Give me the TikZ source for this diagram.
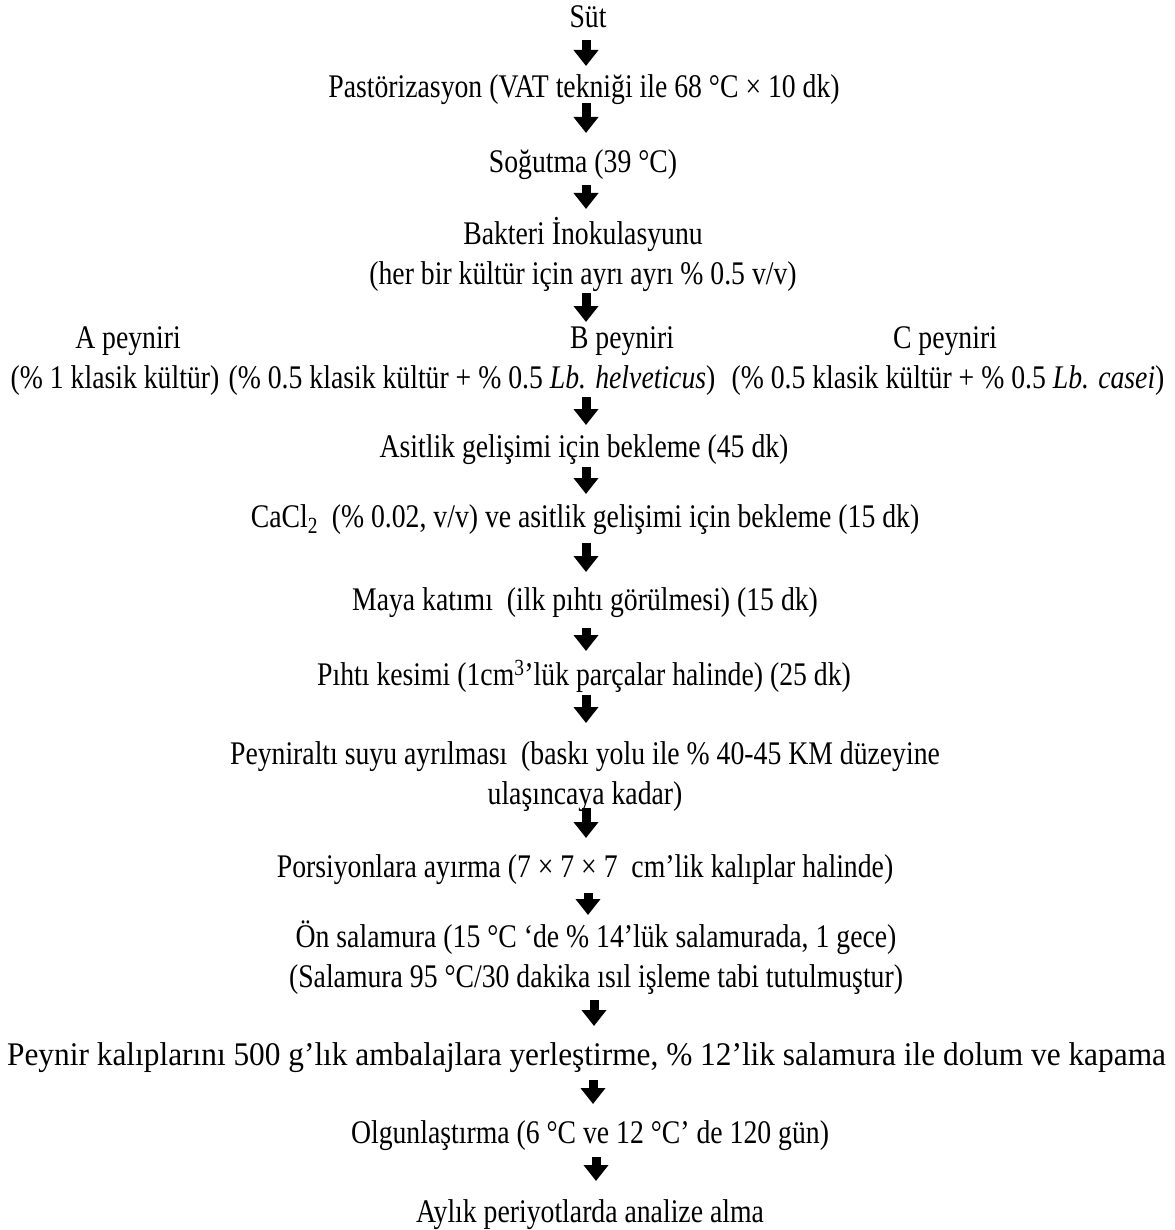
\documentclass[tikz,border=0pt]{standalone}
\usepackage{fontspec}
\setmainfont{Liberation Serif}[FakeStretch=0.84]
\newfontfamily\widefont{Liberation Serif}[FakeStretch=0.95]
\usetikzlibrary{arrows.meta}
\newcommand\st{\rule[-10pt]{0pt}{40pt}}
\begin{document}
\begin{tikzpicture}[x=1pt,y=-1pt,
  txt/.style={inner sep=0pt, font=\fontsize{33}{40}\selectfont, align=center},
  flow/.style={line width=9pt, -{Triangle[width=24pt,length=16pt]}}]
\useasboundingbox[fill=white] (0,0) rectangle (1174,1230);
\node[txt] (sut)  at (588,18)  {\st Süt};
\node[txt] (past) at (584,88)  {\st Pastörizasyon (VAT tekniği ile 68 °C × 10 dk)};
\node[txt] (sog)  at (583,163) {\st Soğutma (39 °C)};
\node[txt] (bak)  at (583,255) {\st Bakteri İnokulasyunu\\\st(her bir kültür için ayrı ayrı \% 0.5 v/v)};
\node[txt] (atit) at (128,338) {\st A peyniri};
\node[txt] (adet) at (115,378) {\st(\% 1 klasik kültür)};
\node[txt] (btit) at (622,338) {\st B peyniri};
\node[txt] (bdet) at (472,378) {\st(\% 0.5 klasik kültür + \% 0.5 \textit{Lb. helveticus})};
\node[txt] (ctit) at (945,338) {\st C peyniri};
\node[txt] (cdet) at (948,378) {\st(\% 0.5 klasik kültür + \% 0.5 \textit{Lb. casei})};
\node[txt] (asit) at (584,447) {\st Asitlik gelişimi için bekleme (45 dk)};
\node[txt] (cacl) at (585,517) {\st CaCl\textsubscript{2}\ \ (\% 0.02, v/v) ve asitlik gelişimi için bekleme (15 dk)};
\node[txt] (maya) at (585,600) {\st Maya katımı\ \ (ilk pıhtı görülmesi) (15 dk)};
\node[txt] (piht) at (584,675) {\st Pıhtı kesimi (1cm\textsuperscript{3}’lük parçalar halinde) (25 dk)};
\node[txt] (pas)  at (585,774) {\st Peyniraltı suyu ayrılması\ \ (baskı yolu ile \% 40-45 KM düzeyine\\\st ulaşıncaya kadar)};
\node[txt] (pors) at (585,867) {\st Porsiyonlara ayırma (7 × 7 × 7\ \ cm’lik kalıplar halinde)};
\node[txt] (on)   at (596,957) {\st Ön salamura (15 °C ‘de \% 14’lük salamurada, 1 gece)\\\st(Salamura 95 °C/30 dakika ısıl işleme tabi tutulmuştur)};
\node[txt] (amb)  at (586.5,1055) {\st\widefont Peynir kalıplarını 500 g’lık ambalajlara yerleştirme, \% 12’lik salamura ile dolum ve kapama};
\node[txt] (olg)  at (590,1133) {\st Olgunlaştırma (6 °C ve 12 °C’ de 120 gün)};
\node[txt] (ayl)  at (590,1212) {\st Aylık periyotlarda analize alma};
% arrows
\coordinate (a1s) at (586,40);   \coordinate (a1e) at (586,66);
\coordinate (a2s) at (586,103);  \coordinate (a2e) at (586,133);
\coordinate (a3s) at (586,185);  \coordinate (a3e) at (586,209);
\coordinate (a4s) at (586,293);  \coordinate (a4e) at (586,322);
\coordinate (a5s) at (586,397);  \coordinate (a5e) at (586,425);
\coordinate (a6s) at (586,467);  \coordinate (a6e) at (586,494);
\coordinate (a7s) at (586,543);  \coordinate (a7e) at (586,572);
\coordinate (a8s) at (586,628);  \coordinate (a8e) at (586,651);
\coordinate (a9s) at (586,695);  \coordinate (a9e) at (586,723);
\coordinate (a10s) at (586,808); \coordinate (a10e) at (586,838);
\coordinate (a11s) at (588,893); \coordinate (a11e) at (588,915);
\coordinate (a12s) at (594,1000); \coordinate (a12e) at (594,1026);
\coordinate (a13s) at (593,1080); \coordinate (a13e) at (593,1104);
\coordinate (a14s) at (596,1157); \coordinate (a14e) at (596,1181);
\foreach \i in {1,...,14}{\draw[flow] (a\i s) -- (a\i e);}
\end{tikzpicture}
\end{document}
